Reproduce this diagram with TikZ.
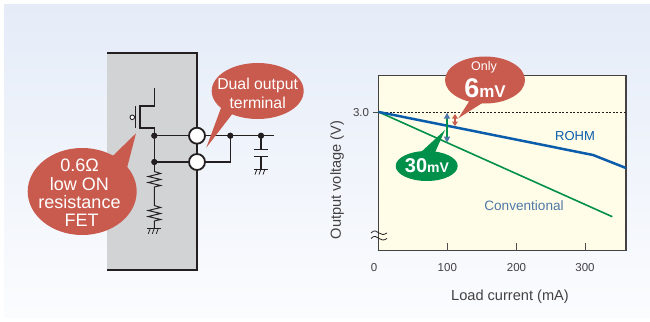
\documentclass[tikz,border=0pt]{standalone}
\usepackage{fontspec}
\setmainfont{Liberation Sans}
\usetikzlibrary{arrows.meta,calc}
\definecolor{callred}{HTML}{C95B4E}
\definecolor{callgreen}{HTML}{00904A}
\definecolor{rohmblue}{HTML}{0B5CAB}
\definecolor{lblblue}{HTML}{4F78A8}
\definecolor{plotbg}{HTML}{FFFDE8}
\definecolor{boxgray}{HTML}{D2D3D5}
\definecolor{ink}{HTML}{231F20}
\definecolor{bgA}{HTML}{E5ECF8}
\definecolor{bgB}{HTML}{FBFCFE}
\tikzset{
  wire/.style={draw=ink,line width=1.1pt},
  dotn/.style={circle,fill=ink,inner sep=0pt,minimum size=6pt},
  term/.style={circle,draw=ink,fill=white,line width=1.8pt,inner sep=0pt,minimum size=16pt},
  calltext/.style={text=white,align=center,font=\fontsize{15.8}{19}\selectfont,inner sep=0pt},
  tick/.style={draw=ink!80,line width=0.9pt},
  ticklabel/.style={text=ink!85,font=\fontsize{11.5}{13}\selectfont,inner sep=0pt},
  axislabel/.style={text=ink!85,font=\fontsize{14.6}{16}\selectfont,inner sep=0pt},
  res/.style={draw=ink,line width=1pt,line join=miter},
}
\newcommand{\gnd}[1]{%
  \draw[wire,line width=1pt] ($(#1)+(-7,0)$) -- ($(#1)+(7,0)$);
  \foreach \d in {-4,0,4}{\draw[wire,line width=0.8pt] ($(#1)+(\d,0)$) -- ($(#1)+(\d-2,5.5)$);}
}
\begin{document}
\begin{tikzpicture}[x=1pt,y=-1pt]
\useasboundingbox (0,0) rectangle (650,321);
\fill[white] (0,0) rectangle (650,321);
\shade[shading=axis,shading angle=-35,top color=bgA,bottom color=bgB] (4,5) rectangle (650,317);
% grey box
\fill[boxgray] (107,53) rectangle (197,270);
\draw[ink,line width=1.7pt] (107,53) -- (197,53) -- (197,270) -- (107,270);
% coordinates
\coordinate (drainTop) at (154.3,88);
\coordinate (drainBend) at (154.3,106);
\coordinate (chTop) at (140,106);
\coordinate (chBot) at (140,128);
\coordinate (srcBend) at (154.3,128);
\node[dotn] (n1) at (154.3,135.7) {};
\node[dotn] (n2) at (154.3,162) {};
\node[dotn] (n3) at (230.3,135.7) {};
\node[dotn] (n4) at (261,135.7) {};
\coordinate (outEnd) at (273.5,135.7);
\coordinate (corner) at (230.3,162);
% MOSFET
\draw[wire] (drainTop) -- (drainBend) -- (chTop) -- (chBot) -- (srcBend) -- (n1.center);
\draw[wire] (135.7,106) -- (135.7,127.5);
\draw[wire,fill=white,line width=0.9pt] (132.3,117.3) circle (2.3);
% wires
\draw[wire] (n1.center) -- (n2.center) -- (154.3,171.5);
\draw[res] (154.3,171.5) -- (160.5,173.5) -- (148.3,176.5) -- (160.5,179.5) -- (148.3,182.5) -- (160.5,185.5) -- (154.3,187) -- (154.3,205.5)
  -- (160.5,207.5) -- (148.3,210.5) -- (160.5,213.5) -- (148.3,216.5) -- (160.5,219.5) -- (154.3,221) -- (154.3,228.3);
\coordinate (g1) at (154.3,228.3);
\gnd{g1}
\draw[wire] (n1.center) -- (outEnd);
\draw[wire] (n2.center) -- (corner) -- (n3.center);
\draw[wire] (n4.center) -- (261,149.5);
\draw[wire] (254,149.5) -- (268.3,149.5);
\draw[wire] (254,156.7) -- (268.3,156.7);
\draw[wire] (261,156.7) -- (261,169);
\coordinate (g2) at (261,169);
\gnd{g2}
\node[term] (t1) at (197,135.7) {};
\node[term] (t2) at (197,162) {};
\node[dotn] at (154.3,135.7) {};
\node[dotn] at (154.3,162) {};
\node[dotn] at (230.3,135.7) {};
\node[dotn] at (261,135.7) {};
% circuit callouts
\fill[callred] (257.7,91) ellipse (46 and 28);
\fill[callred] (206.3,147.7) -- (221.7,106) -- (233,113) -- cycle;
\node[calltext] (dual) at (257.7,93) {Dual output\\terminal};
\fill[callred] (82.2,191.5) ellipse (54.5 and 43.5);
\fill[callred] (136,133.3) -- (111.7,157) -- (127,168) -- cycle;
\node[calltext,font=\fontsize{18}{18.4}\selectfont] (fet) at (79.5,193) {0.6Ω\\low ON\\resistance\\\hspace{4pt}FET};
% plot
\fill[plotbg] (378.7,75.3) rectangle (626,250.7);
\draw[ink!85,line width=1.1pt] (378.7,75.3) rectangle (626,250.7);
\draw[ink,line width=0.7pt,dash pattern=on 2pt off 1.6pt] (378.7,112) -- (626,112);
\draw[tick] (372.7,112) -- (378.7,112);
\node[ticklabel] (v3) at (361,112.5) {3.0};
\draw[tick] (447.3,243.3) -- (447.3,250.7);
\draw[tick] (516.2,243.3) -- (516.2,250.7);
\draw[tick] (585,243.3) -- (585,250.7);
\node[ticklabel] (x0) at (374,267.5) {0};
\node[ticklabel] (x1) at (447.3,267.5) {100};
\node[ticklabel] (x2) at (516.5,267.5) {200};
\node[ticklabel] (x3) at (585,267.5) {300};
\node[axislabel] (xl) at (510,297) {Load current (mA)};
\node[axislabel,rotate=90] (yl) at (337,180) {Output voltage (V)};
% axis break
\fill[plotbg] (378.7,232) rectangle (381,240);
\fill[bgA!60!bgB] (376,232) rectangle (378.1,240);
\draw[ink,line width=0.8pt] (371,233) .. controls (374,229.5) and (377,231) .. (379,233) .. controls (381,235) and (384,235) .. (387,233);
\draw[ink,line width=0.8pt] (371,238.5) .. controls (374,235) and (377,236.5) .. (379,238.5) .. controls (381,240.5) and (384,240.5) .. (387,238.5);
% curves
\draw[callgreen,line width=1.6pt] (378.7,112) -- (612.3,216.7);
\draw[rohmblue,line width=2.5pt] (378.7,112) -- (593,155) -- (626,168);
\node[text=rohmblue,font=\fontsize{13}{14}\selectfont,inner sep=0pt] (rohm) at (575,136) {ROHM};
\node[text=lblblue,font=\fontsize{13.6}{15}\selectfont,inner sep=0pt] (conv) at (524,206) {Conventional};
% delta arrows
\draw[lblblue,line width=1.2pt,{Triangle[length=6pt,width=6pt]}-{Triangle[length=6pt,width=6pt]}] (447,112.7) -- (447,142.7);
\draw[callred,line width=1.3pt,{Triangle[length=4.5pt,width=5.5pt]}-{Triangle[length=4.5pt,width=5.5pt]}] (455,114) -- (455,126);
% value callouts
\fill[callred] (485,80) ellipse (40 and 23.5);
\fill[callred] (458.3,118.3) -- (470,100) -- (487,100) -- cycle;
\node[text=white,font=\fontsize{12.5}{14}\selectfont,inner sep=0pt] (only) at (484,67.5) {Only};
\node[text=white,inner sep=0pt] (six) at (485,88) {\fontsize{27}{30}\selectfont\bfseries 6\fontsize{17}{18}\selectfont mV};
\fill[callgreen] (426.7,166) ellipse (31 and 15);
\fill[callgreen] (445,130) -- (420,153) -- (433,157) -- cycle;
\draw[callgreen,line width=2pt] (447,119) -- (447,137);
\node[text=white,inner sep=0pt] (thirty) at (427,166) {\fontsize{20}{22}\selectfont\bfseries 30\fontsize{14}{15}\selectfont mV};
\end{tikzpicture}
\end{document}
